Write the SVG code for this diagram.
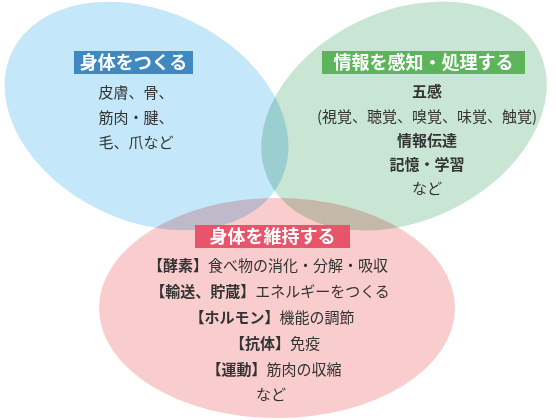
<svg xmlns="http://www.w3.org/2000/svg" width="556" height="420" viewBox="0 0 556 420">
<style>
.ell{mix-blend-mode:multiply}
.t{font-family:"Noto Sans CJK JP","Noto Sans CJK SC",sans-serif;font-size:15px;fill:#333;text-anchor:middle}
.b{font-weight:700}
.h{font-family:"Noto Sans CJK JP","Noto Sans CJK SC",sans-serif;font-size:18px;font-weight:700;fill:#fff;text-anchor:middle}
</style>
<rect x="0" y="0" width="556" height="420" fill="#fff"/>
<g id="node-build">
<ellipse class="ell" cx="146.5" cy="116" rx="149" ry="105" transform="rotate(25.4 146.5 116)" fill="#c5e7fa"/>
<rect x="74" y="51" width="119" height="23" fill="#3f89c0"/>
<text class="h" x="133.5" y="69">身体をつくる</text>
<text class="t" x="136" y="97.5">皮膚、骨、</text>
<text class="t" x="136" y="122.5">筋肉・腱、</text>
<text class="t" x="136" y="147.5">毛、爪など</text>
</g>
<g id="node-sense">
<ellipse class="ell" cx="404" cy="116" rx="150" ry="105" transform="rotate(-25.4 404 116)" fill="#c9e5d3"/>
<rect x="322" y="51" width="203" height="23" fill="#5cb55b"/>
<text class="h" x="423.5" y="69">情報を感知・処理する</text>
<text class="t b" x="427" y="97">五感</text>
<text class="t" x="427" y="122">(視覚、聴覚、嗅覚、味覚、触覚)</text>
<text class="t b" x="427" y="146">情報伝達</text>
<text class="t b" x="427" y="169.5">記憶・学習</text>
<text class="t" x="427" y="194">など</text>
</g>
<g id="node-maintain">
<ellipse class="ell" cx="277" cy="308" rx="178" ry="110" fill="#f9cdcd"/>
<rect x="195" y="225" width="155" height="23" fill="#e8556a"/>
<text class="h" x="272.5" y="243">身体を維持する</text>
<text class="t" x="268" y="270.5"><tspan class="b">【酵素】</tspan>食べ物の消化・分解・吸収</text>
<text class="t" x="270" y="296.5"><tspan class="b">【輸送、貯蔵】</tspan>エネルギーをつくる</text>
<text class="t" x="272" y="322.5"><tspan class="b">【ホルモン】</tspan>機能の調節</text>
<text class="t" x="275" y="348.5"><tspan class="b">【抗体】</tspan>免疫</text>
<text class="t" x="274" y="374.5"><tspan class="b">【運動】</tspan>筋肉の収縮</text>
<text class="t" x="271" y="399.5">など</text>
</g>
<g id="connectors"/>
</svg>
